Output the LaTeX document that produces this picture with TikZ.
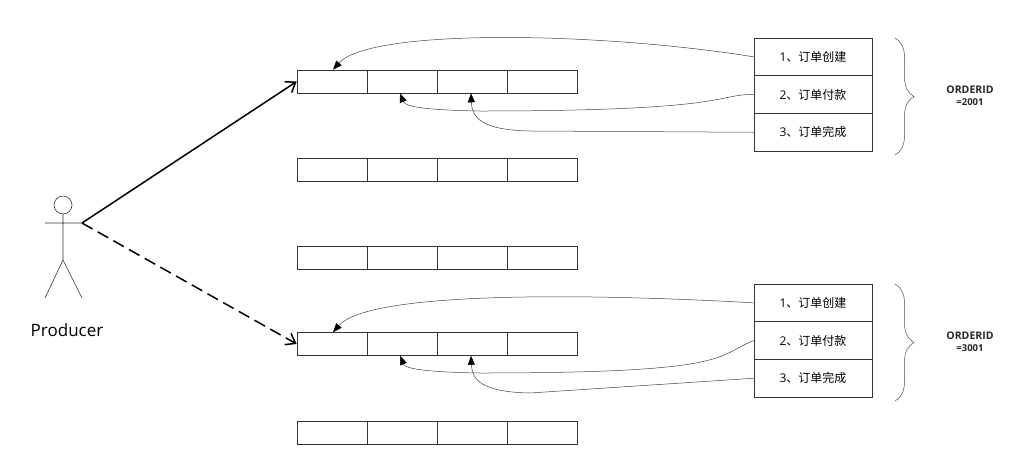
\documentclass[tikz,border=0pt]{standalone}
\usepackage{fontspec}
\setmainfont{Open Sans}
\newfontfamily\cjk{Noto Sans CJK SC}
\usetikzlibrary{arrows.meta,decorations.pathreplacing}
\begin{document}
\begin{tikzpicture}[x=1pt,y=-1pt,
  cell/.style={draw=black!80,line width=0.6pt,minimum width=70pt,minimum height=23pt,inner sep=0pt},
  obox/.style={draw=black!80,line width=0.6pt,minimum width=118pt,minimum height=37.7pt,inner sep=0pt,font=\fontsize{12}{14}\selectfont},
  feed/.style={line width=0.5pt,draw=black!75,-{Triangle[length=9pt,width=7pt,fill=black,color=black]}},
  prod/.style={line width=1.5pt,-{Straight Barb[length=9pt,width=13pt]}},
  bracestyle/.style={line width=0.5pt,black!70,decorate,decoration={brace,amplitude=19pt}},
  lbl/.style={font=\fontsize{10.5}{14}\selectfont\bfseries,align=center,text=black!85}]
\useasboundingbox (0,0) rectangle (1034,459);
% queues
\foreach \r/\y in {1/81.5,2/169.5,3/257.5,4/344,5/432.5}{
  \foreach \c in {1,...,4}{
    \node[cell] (q\r c\c) at (297+70*\c-35,\y) {};
  }
}
% order boxes
\foreach \g/\y in {A/38,B/284}{
  \node[obox] (\g1) at (813,\y+18.85) {1\cjk、订单创建};
  \node[obox] (\g2) at (813,\y+56.55) {2\cjk、订单付款};
  \node[obox] (\g3) at (813,\y+94.25) {3\cjk、订单完成};
}
% braces
\draw[bracestyle] (895,38) -- (895,155);
\draw[bracestyle] (895,284) -- (895,401);
\node[lbl] (lA) at (970,96) {ORDERID\\[-2pt]{\normalfont\fontsize{9.5}{12}\selectfont\bfseries =2001}};
\node[lbl] (lB) at (970,342) {ORDERID\\[-2pt]{\normalfont\fontsize{9.5}{12}\selectfont\bfseries =3001}};
% feed curves
\foreach \g/\r/\yo in {A/1/0,B/4/262}{
  \draw[feed] (\g1.west) .. controls (600,32+\yo) and (370,28+\yo) .. ([xshift=1pt]q\r c1.north);
  \draw[feed] (\g2.west) .. controls (715,94+\yo) and (735,111+\yo) .. (480,111+\yo) .. controls (420,110+\yo) and (405,106+\yo) .. ([xshift=-2pt]q\r c2.south);
  \draw[feed] (\g3.west) -- (530,131+\yo) .. controls (482,130+\yo) and (472,118+\yo) .. ([xshift=-1pt]q\r c3.south);
}
% actor
\draw[line width=0.6pt,black!80] (63,205) circle (9pt);
\coordinate (neck) at (63,214);
\coordinate (hip) at (63,260);
\coordinate (hand) at (82,223);
\draw[line width=0.6pt,black!80] (neck) -- (hip) (45,223) -- (hand) (45,298) -- (hip) -- (82,298);
\node[font=\fontsize{17}{20}\selectfont] (prod) at (67,330) {Producer};
\draw[prod] (hand) -- (q1c1.west);
\draw[prod,dash pattern=on 12pt off 6pt] (hand) -- (q4c1.west);
\end{tikzpicture}
\end{document}
